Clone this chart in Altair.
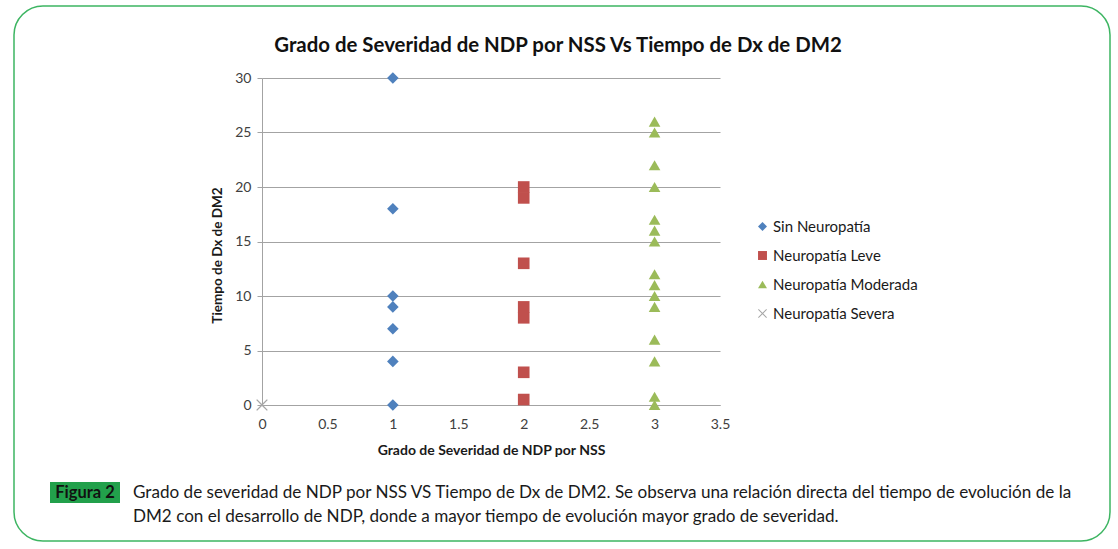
import altair as alt
import pandas as pd

# ---- data ----
series = ["Sin Neuropatía", "Neuropatía Leve", "Neuropatía Moderada", "Neuropatía Severa"]
grado = [1, 2, 3, 0]
sin_y = [30, 18, 10, 9, 7, 4, 0]
leve_y = [20, 19, 13, 9, 8, 3, 0.5]
mod_y = [26, 25, 22, 20, 17, 16, 15, 12, 11, 10, 9, 6, 4, 0.75, 0]
sev_y = [0]
x_ticks = [0, 0.5, 1, 1.5, 2, 2.5, 3, 3.5]
y_ticks = [0, 5, 10, 15, 20, 25, 30]

title_text = "Grado de Severidad de NDP por NSS Vs Tiempo de Dx de DM2"
x_title = "Grado de Severidad de NDP por NSS"
y_title = "Tiempo de Dx de DM2"
fig_label = "Figura 2"
caption_1 = ("Grado de severidad de NDP por NSS VS Tiempo de Dx de DM2. Se observa una relación directa "
             "del tiempo de evolución de la")
caption_2 = "DM2 con el desarrollo de NDP, donde a mayor tiempo de evolución mayor grado de severidad."

colors = ["#4F81BD", "#C0504D", "#9BBB59", "#A6A6A6"]
X_PATH = ("M-1,-0.84L-0.84,-1L0,-0.16L0.84,-1L1,-0.84L0.16,0L1,0.84L0.84,1"
          "L0,0.16L-0.84,1L-1,0.84L-0.16,0Z")
shapes = ["diamond", "square", "triangle-up", X_PATH]

rows = []
for s, g, ys in zip(series, grado, [sin_y, leve_y, mod_y, sev_y]):
    for v in ys:
        rows.append({"grado": g, "tiempo": v, "serie": s})
df = pd.DataFrame(rows)

# plot area placement
L, T, W, H = 262, 78, 458, 327
FONT = "Lato"
GRID = "#A3A3A3"

legend = alt.Legend(
    orient="none", legendX=493, legendY=141, padding=0,
    labelFont=FONT, labelFontSize=15, labelColor="#1a1a1a",
    symbolSize=80, symbolStrokeWidth=0, symbolOpacity=1,
    rowPadding=13, labelOffset=3,
)

points = alt.Chart(df).mark_point(filled=True, size=135, opacity=1).encode(
    x=alt.X("grado:Q",
            scale=alt.Scale(domain=[0, 3.5], nice=False, zero=False),
            axis=alt.Axis(values=x_ticks, format="~g", grid=False, ticks=False,
                          labelFlush=False,
                          domainColor=GRID, labelFont=FONT, labelFontSize=14,
                          labelColor="#404040", labelPadding=12,
                          title=x_title, titleFont=FONT, titleFontSize=14,
                          titleFontWeight="bold", titleColor="#1a1a1a",
                          titleY=45, titleBaseline="middle")),
    y=alt.Y("tiempo:Q",
            scale=alt.Scale(domain=[0, 30], nice=False),
            axis=alt.Axis(values=y_ticks, grid=True, gridColor=GRID, gridWidth=1,
                          domainColor=GRID, tickColor=GRID, tickSize=5,
                          labelFont=FONT, labelFontSize=14, labelColor="#404040",
                          labelPadding=6, labelFlush=False,
                          title=y_title, titleFont=FONT, titleFontSize=13.5,
                          titleFontWeight="bold", titleColor="#1a1a1a",
                          titleAngle=270, titleX=-45, titleY=177,
                          titleAlign="center", titleBaseline="middle")),
    color=alt.Color("serie:N", scale=alt.Scale(domain=series, range=colors),
                    legend=legend, title=None),
    shape=alt.Shape("serie:N", scale=alt.Scale(domain=series, range=shapes),
                    legend=legend, title=None),
)

dummy = pd.DataFrame({"a": [0]})

border = alt.Chart(dummy).mark_rect(
    fillOpacity=0, stroke="#3DB562", strokeWidth=1.5, cornerRadius=29
).encode(x=alt.value(14 - L), x2=alt.value(1110 - L),
         y=alt.value(6 - T), y2=alt.value(541 - T))

title = alt.Chart(dummy).mark_text(
    text=title_text, font=FONT, fontSize=20.4, fontWeight="bold",
    color="#111111", align="center", baseline="middle"
).encode(x=alt.value(558 - L), y=alt.value(46 - T))

fig_box = alt.Chart(dummy).mark_rect(fill="#22A04B").encode(
    x=alt.value(50 - L), x2=alt.value(120 - L),
    y=alt.value(482 - T), y2=alt.value(503 - T))

fig_txt = alt.Chart(dummy).mark_text(
    text=fig_label, font=FONT, fontSize=16.5, fontWeight="bold",
    color="#111111", align="center", baseline="middle"
).encode(x=alt.value(85 - L), y=alt.value(493 - T))

cap1 = alt.Chart(dummy).mark_text(
    text=caption_1, font=FONT, fontSize=17.1, color="#1a1a1a",
    align="left", baseline="middle"
).encode(x=alt.value(133 - L), y=alt.value(493 - T))

cap2 = alt.Chart(dummy).mark_text(
    text=caption_2, font=FONT, fontSize=17.1, color="#1a1a1a",
    align="left", baseline="middle"
).encode(x=alt.value(133 - L), y=alt.value(517 - T))

chart = alt.layer(border, title, fig_box, fig_txt, cap1, cap2, points).properties(
    width=W, height=H,
    padding={"left": L, "top": T, "right": 1118 - L - W, "bottom": 549 - T - H},
    autosize=alt.AutoSizeParams(type="none"),
    background="white",
).configure_view(strokeWidth=0)

chart.save("out.html", embed_options={"renderer": "svg", "actions": False})
